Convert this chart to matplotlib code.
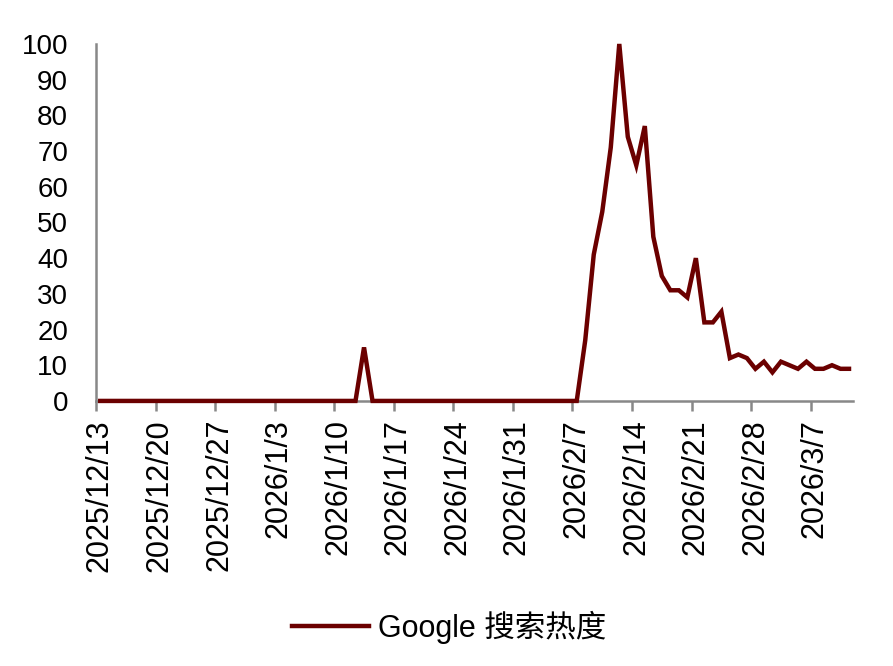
import matplotlib
matplotlib.use("Agg")
import matplotlib.pyplot as plt
import matplotlib.transforms as mtransforms
import numpy as np
import pandas as pd

plt.rcParams['font.family'] = ['Liberation Sans', 'Noto Sans CJK SC', 'DejaVu Sans']

start_date = "2025-12-13"
n_days = 89
tick_labels = ["2025/12/13", "2025/12/20", "2025/12/27", "2026/1/3", "2026/1/10",
               "2026/1/17", "2026/1/24", "2026/1/31", "2026/2/7", "2026/2/14",
               "2026/2/21", "2026/2/28", "2026/3/7"]

early_values = [0] * 31 + [15] + [0] * 24  # days 0..55
late_values = [0, 17, 41, 53, 71, 100, 74, 66, 77, 46, 35, 31, 31, 29, 40, 22, 22, 25,
               12, 13, 12, 9, 11, 8, 11, 10, 9, 11, 9, 9, 10, 9, 9]  # days 56..88
values = early_values + late_values
series_name = "Google 搜索热度"

dates = pd.date_range(start_date, periods=n_days, freq="D")
x = np.arange(len(values))

fig = plt.figure(figsize=(8.93, 6.66), dpi=100)
ax = fig.add_axes([0.1075, 0.398, 0.848, 0.536])

line_color = "#6B0000"
ax.plot(x, values, color=line_color, lw=3.2, solid_joinstyle="miter", label=series_name,
        clip_on=False, zorder=3)

ax.set_xlim(-0.5, len(values) - 0.5)
ax.set_ylim(0, 100)
ax.set_yticks(np.arange(0, 101, 10))
ax.tick_params(axis="y", length=0, labelsize=20, pad=20)

tick_pos = np.arange(-0.5, len(values) - 0.5, 7)[:len(tick_labels)]
ax.set_xticks(tick_pos)
ax.set_xticklabels(tick_labels, rotation=90, fontsize=22, va="top", ha="center")
ax.tick_params(axis="x", length=7, width=1.8, color="#888888", direction="out", pad=6)
offset = mtransforms.ScaledTranslation(4 / 100, 0, fig.dpi_scale_trans)
for lab in ax.get_xticklabels():
    lab.set_transform(lab.get_transform() + offset)

for s in ["top", "right"]:
    ax.spines[s].set_visible(False)
for s in ["left", "bottom"]:
    ax.spines[s].set_color("#888888")
    ax.spines[s].set_linewidth(1.8)

leg = fig.legend(loc="center", bbox_to_anchor=(0.503, 0.058), frameon=False,
                 fontsize=22, handlelength=2.5, handletextpad=0.3)

fig.savefig("out.png", dpi=100)
